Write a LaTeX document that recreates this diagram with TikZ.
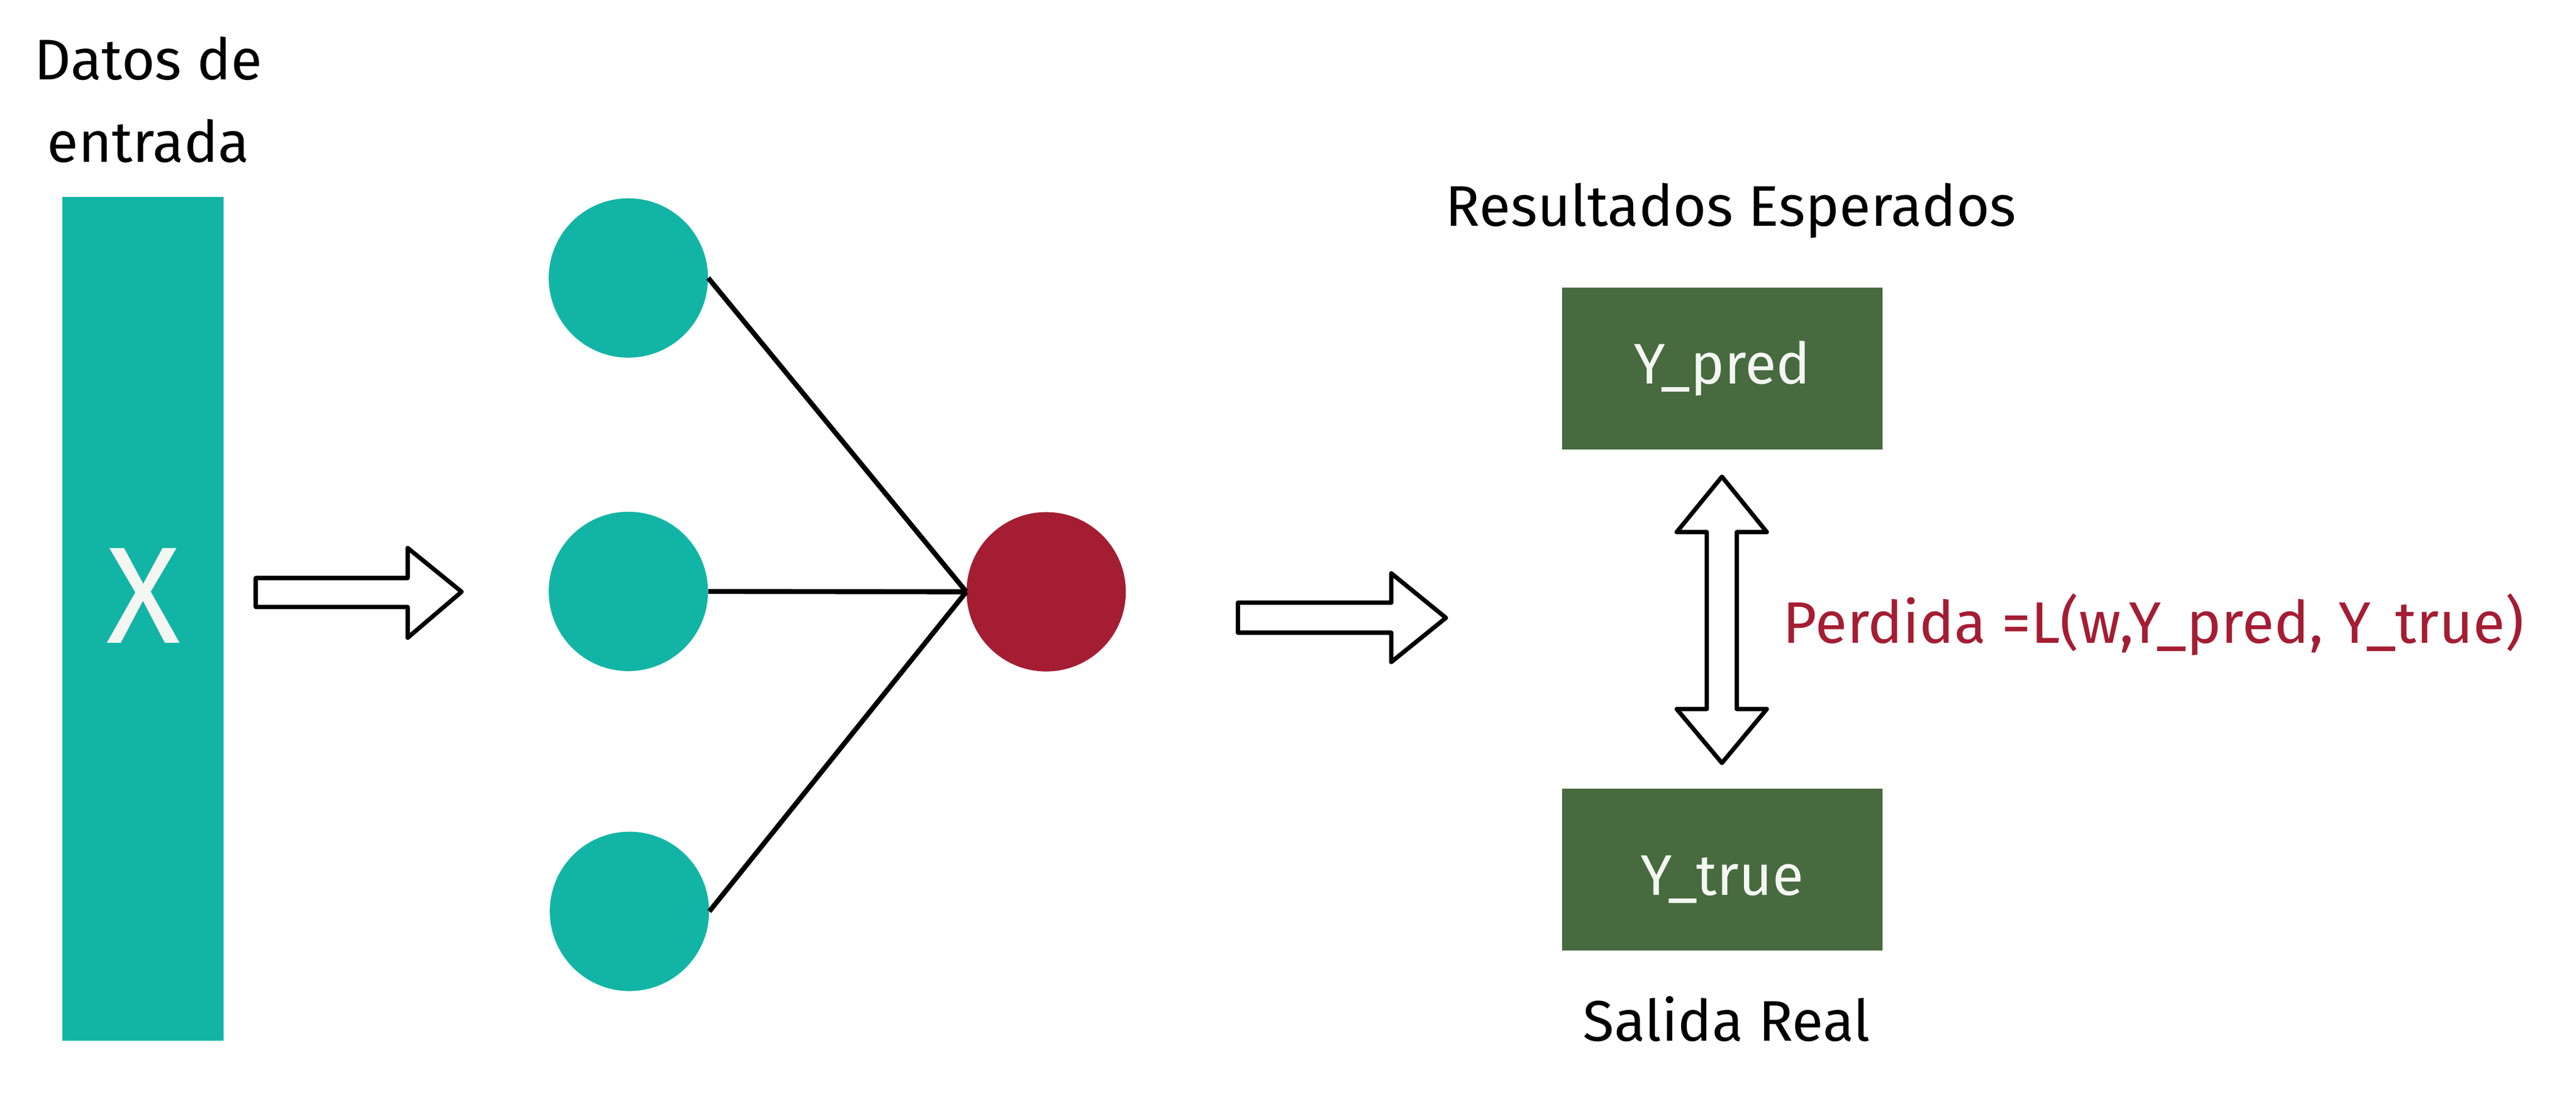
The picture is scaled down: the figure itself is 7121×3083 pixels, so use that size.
\documentclass[tikz,border=0pt]{standalone}
\usepackage{fontspec}
\setmainfont{Fira Sans}
\definecolor{tealc}{HTML}{12B5A5}
\definecolor{redc}{HTML}{A51D33}
\definecolor{greenc}{HTML}{476B3F}
\definecolor{offwhite}{HTML}{F4F6F2}
\tikzset{
  lbl/.style={inner sep=0pt, font=\fontsize{45}{65}\selectfont, text=black},
  neuron/.style={circle, fill=tealc, minimum size=4.4cm, inner sep=0pt},
  outneuron/.style={circle, fill=redc, minimum size=4.4cm, inner sep=0pt},
  ybox/.style={rectangle, fill=greenc, minimum width=8.84cm, minimum height=4.47cm, inner sep=0pt, text=offwhite, font=\fontsize{45}{54}\selectfont},
  conn/.style={line width=3.9pt, black},
  hollow/.style={line width=3.4pt, black, fill=white, line join=round},
}
\begin{document}
\begin{tikzpicture}[x=0.01cm, y=-0.01cm]
\useasboundingbox (0,0) rectangle (7121,3083);
% input bar
\node[rectangle, fill=tealc, minimum width=4.45cm, minimum height=23.3cm, inner sep=0pt] (xin) at (395.5,1710) {};
\node[inner sep=0pt, text=offwhite, font=\fontsize{108}{120}\selectfont] (xlbl) at (396,1646) {X};
\node[lbl, align=center, anchor=base] (datos) at (410,448) {Datos de\\entrada};
% hollow arrow 1
\draw[hollow] (707,1597) -- (1127,1597) -- (1127,1514) -- (1276,1635) -- (1127,1762) -- (1127,1677) -- (707,1677) -- cycle;
% neurons
\node[neuron] (h1) at (1737,768) {};
\node[neuron] (h2) at (1737,1634) {};
\node[neuron] (h3) at (1740,2518) {};
\node[outneuron] (out) at (2892,1635) {};
\draw[conn] (h1.east) -- (out.west);
\draw[conn] (h2.east) -- (out.west);
\draw[conn] (h3.east) -- (out.west);
% hollow arrow 2
\draw[hollow] (3422,1665) -- (3846,1665) -- (3846,1584) -- (3997,1707) -- (3846,1829) -- (3846,1748) -- (3422,1748) -- cycle;
% outputs
\node[lbl, anchor=base] (res) at (4785,624) {Resultados Esperados};
\node[ybox] (ypred) at (4761,1018) {Y\_pred};
\node[ybox, text height=45pt, text depth=4.6pt] (ytrue) at (4761,2402) {Y\_true};
\node[lbl, anchor=base] (sal) at (4773,2876) {Salida Real};
% double arrow
\draw[hollow] (4760,1317) -- (4884,1470) -- (4801,1470) -- (4801,1959) -- (4884,1959) -- (4760,2108) -- (4635,1959) -- (4718,1959) -- (4718,1470) -- (4635,1470) -- cycle;
\node[lbl, text=redc, anchor=base west, font=\fontsize{46}{52}\selectfont] (loss) at (4928,1776) {Perdida =L(w,Y\_pred, Y\_true)};
\end{tikzpicture}
\end{document}
